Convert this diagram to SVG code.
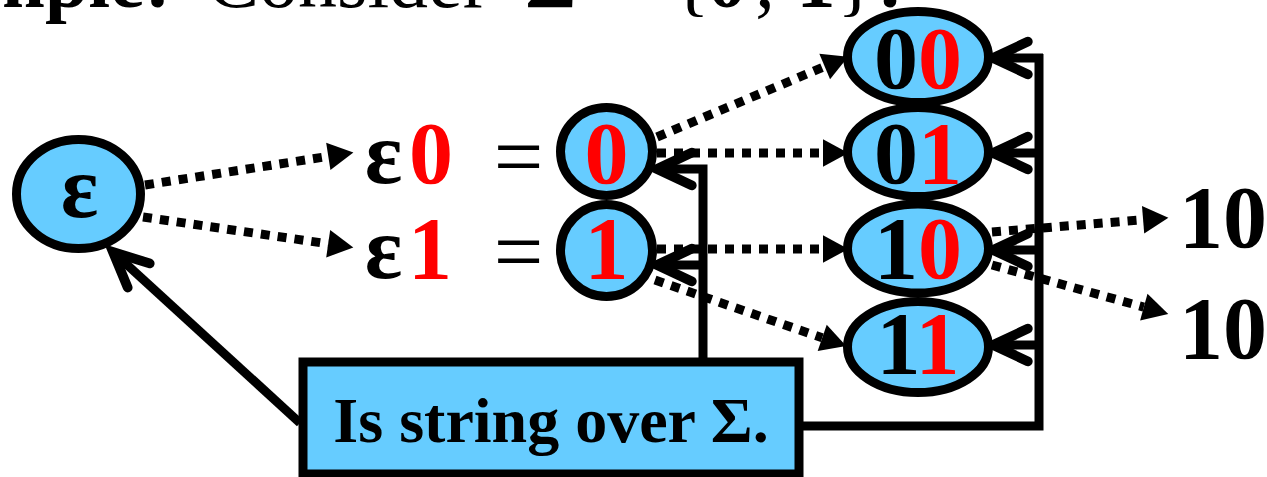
<svg xmlns="http://www.w3.org/2000/svg" width="1267" height="477" viewBox="0 0 1267 477">
<style>
.node{fill:#66CCFF;stroke:#000;stroke-width:9}
.t{font-family:"Liberation Serif","Times New Roman",serif;font-weight:bold;font-size:88px;fill:#000}
.r{fill:#FF0000}
.reg{font-weight:normal}
.dot{fill:none;stroke:#000;stroke-width:9;stroke-dasharray:9 8;marker-end:url(#tri)}
.fb{fill:none;stroke:#000;stroke-width:9;stroke-linejoin:miter}
.fa{fill:none;stroke:#000;stroke-width:9;marker-end:url(#vee)}
.top{font-family:"Liberation Serif","Times New Roman",serif;font-size:78px;fill:#000}
.box{font-size:64px}
</style>
<defs>
<marker id="tri" markerUnits="userSpaceOnUse" markerWidth="30" markerHeight="30" viewBox="0 -13 23 26" refX="0" refY="0" orient="auto">
<path d="M0,-12 L22,0 L0,12 z" fill="#000"/>
</marker>
<marker id="vee" markerUnits="userSpaceOnUse" markerWidth="50" markerHeight="50" viewBox="-40 -22 46 44" refX="0" refY="0" orient="auto" overflow="visible">
<path d="M-32,-15 L0,0 L-32,15" fill="none" stroke="#000" stroke-width="9" stroke-linecap="round" stroke-linejoin="miter"/>
</marker>
</defs>

<g id="title">
<text class="top" x="-150" y="7" font-weight="bold">Example:</text>
<text class="top" x="207" y="7">Consider</text>
<text class="top" x="551" y="7" text-anchor="middle" font-weight="bold">Σ</text>
<text class="top" x="618" y="7" text-anchor="middle">=</text>
<text class="top" x="691" y="7" text-anchor="middle">{</text>
<text class="top" x="727" y="7" text-anchor="middle" font-weight="bold" fill="#FF0000">0</text>
<text class="top" x="765" y="7" text-anchor="middle">,</text>
<text class="top" x="816" y="7" text-anchor="middle" font-weight="bold" fill="#FF0000">1</text>
<text class="top" x="856" y="7" text-anchor="middle">}</text>
<text class="top" x="890" y="7" text-anchor="middle" font-weight="bold">.</text>
</g>

<g id="connectors">
<line class="dot" x1="145" y1="185" x2="328.3" y2="156.4"/>
<line class="dot" x1="143" y1="217" x2="328.2" y2="243.8"/>
<line class="dot" x1="657" y1="137" x2="824.7" y2="66.5"/>
<line class="dot" x1="657" y1="153" x2="823" y2="153"/>
<line class="dot" x1="657" y1="249" x2="823" y2="249"/>
<line class="dot" x1="655" y1="280" x2="822.2" y2="337.8"/>
<line class="dot" x1="992" y1="232" x2="1143.1" y2="219.8"/>
<line class="dot" x1="992" y1="265" x2="1143.8" y2="307.1"/>
<path class="fb" d="M803,426 H1039 V54"/>
<line class="fa" x1="1043" y1="58" x2="993" y2="58"/>
<line class="fa" x1="1039" y1="153" x2="993" y2="153"/>
<line class="fa" x1="1039" y1="250" x2="993" y2="250"/>
<line class="fa" x1="1039" y1="345" x2="993" y2="345"/>
<path class="fb" d="M703,358 V169 H657" marker-end="url(#vee)"/>
<line class="fa" x1="703" y1="265" x2="657" y2="265"/>
<line class="fa" x1="300" y1="423" x2="113" y2="252"/>
</g>

<g id="labels">
<text class="t" x="383.5" y="183" text-anchor="middle">ε</text>
<text class="t r" x="431" y="183" text-anchor="middle">0</text>
<text class="t reg" x="518.5" y="186" text-anchor="middle">=</text>
<text class="t" x="383.5" y="278" text-anchor="middle">ε</text>
<text class="t r" x="430" y="278" text-anchor="middle">1</text>
<text class="t reg" x="518.5" y="281" text-anchor="middle">=</text>
<text class="t" x="1179" y="247">10</text>
<text class="t" x="1179" y="358">10</text>
</g>

<g id="node-eps">
<ellipse class="node" cx="78.5" cy="194" rx="62" ry="54.5"/>
<text class="t" x="79.5" y="217" text-anchor="middle">ε</text>
</g>
<g id="node-0">
<ellipse class="node" cx="606.5" cy="151.5" rx="46" ry="44"/>
<text class="t r" x="606.5" y="183" text-anchor="middle">0</text>
</g>
<g id="node-1">
<ellipse class="node" cx="606.5" cy="250.5" rx="46" ry="46"/>
<text class="t r" x="606.5" y="278" text-anchor="middle">1</text>
</g>
<g id="node-00">
<ellipse class="node" cx="918" cy="57" rx="70.5" ry="45.5"/>
<text class="t" x="918" y="88" text-anchor="middle">0<tspan class="r">0</tspan></text>
</g>
<g id="node-01">
<ellipse class="node" cx="918" cy="152" rx="70.5" ry="44.5"/>
<text class="t" x="918" y="183" text-anchor="middle">0<tspan class="r">1</tspan></text>
</g>
<g id="node-10">
<ellipse class="node" cx="918" cy="248.5" rx="70.5" ry="44.5"/>
<text class="t" x="918" y="278" text-anchor="middle">1<tspan class="r">0</tspan></text>
</g>
<g id="node-11">
<ellipse class="node" cx="918" cy="347" rx="70.5" ry="45.5"/>
<text class="t" x="918" y="373" text-anchor="middle">1<tspan class="r">1</tspan></text>
</g>

<g id="box">
<rect class="node" x="303" y="362" width="496" height="112"/>
<text class="t box" x="551" y="442" text-anchor="middle">Is string over Σ.</text>
</g>
</svg>
